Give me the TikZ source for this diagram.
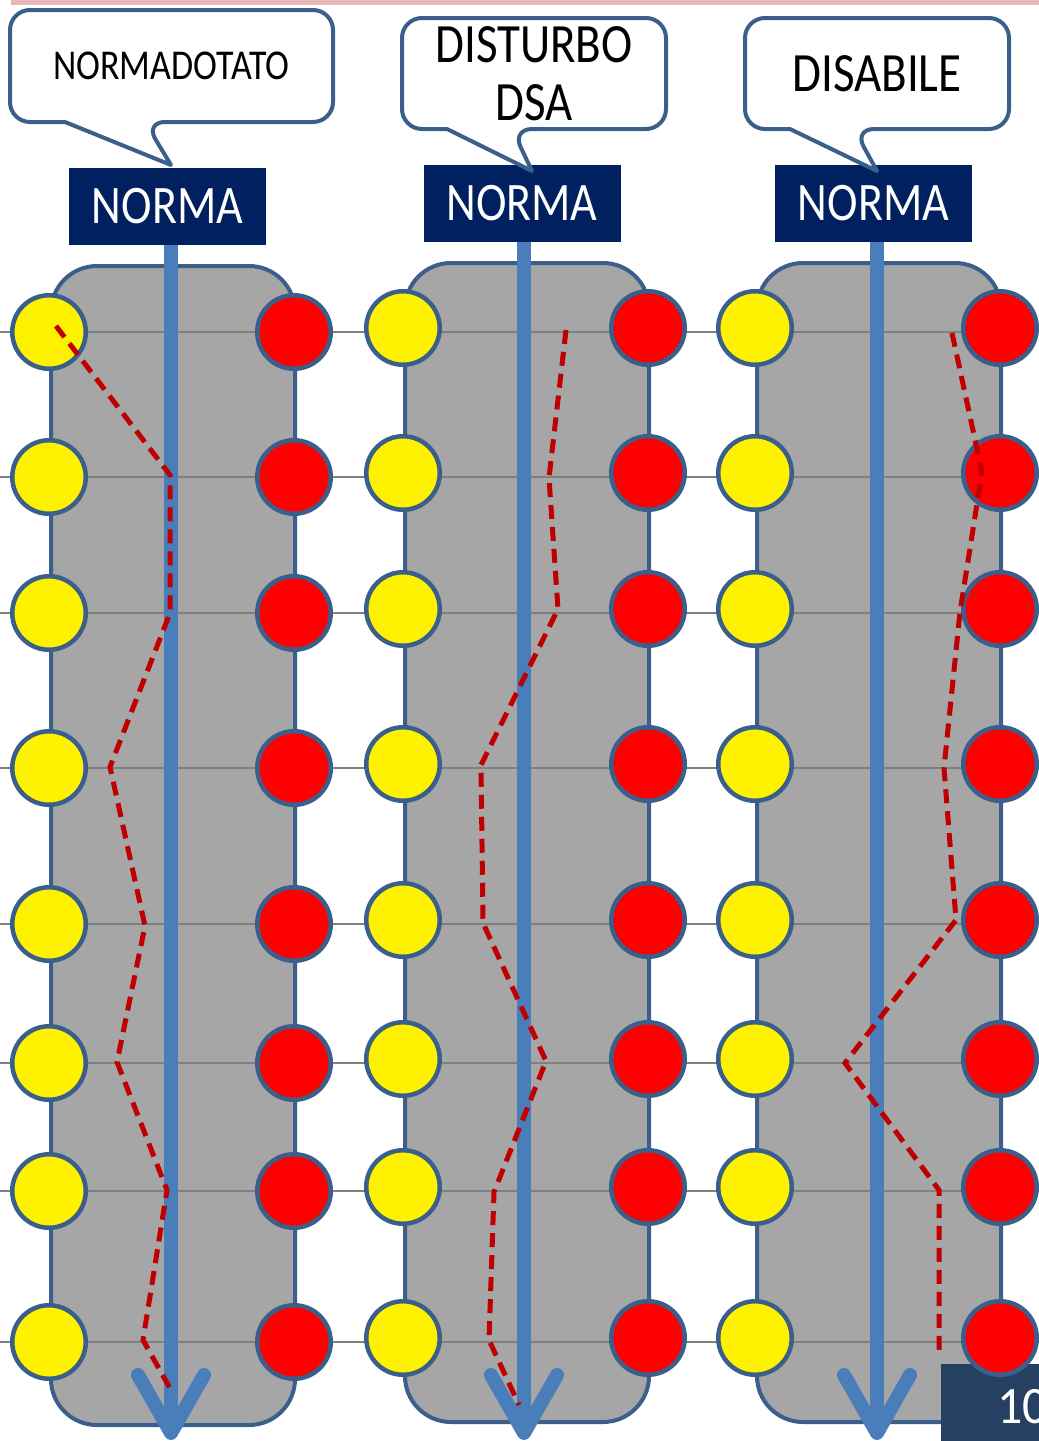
\documentclass[tikz,border=0pt]{standalone}
\usepackage{fontspec}
\setmainfont{Carlito}
\usetikzlibrary{arrows.meta}
\definecolor{bordo}{RGB}{58,95,139}
\definecolor{grigio}{RGB}{166,166,166}
\definecolor{azzurro}{RGB}{74,126,187}
\definecolor{notte}{RGB}{0,32,96}
\definecolor{rossoscuro}{RGB}{192,0,0}
\definecolor{rosa}{RGB}{230,185,184}
\definecolor{ardesia}{RGB}{37,64,97}
\newcommand{\alto}[1]{\scalebox{1}[1.18]{#1}}
\newcommand{\righe}{332,477,613,768,924,1063,1191,1342}
\newcommand{\pannello}[2]{% x y: top left corner, 244x1159
  \draw[bordo,line width=4pt,fill=grigio,rounded corners=46pt] (#1,#2) rectangle ++(244,1159);
}
\newcommand{\colonna}[6]{% n, left x, arrow x, circle shift, box centre x y
  \coordinate (f#1) at (#3,1440);
  \node[norma] (n#1) at (#5,#6) {\alto{NORMA}};
  \draw[freccia] (n#1.south -| f#1) -- (f#1);
  \foreach \y [count=\i] in \righe {
    \node[pallino,fill=yellow] (g#1-\i) at (#2-2,\y-#4) {};
    \node[pallino,fill=red] (r#1-\i) at (#2+243,\y-#4) {};
  }
}
\newcommand{\fumetto}[9]{% name, x1 y1 x2 y2, pointer base b1 b2, tip, text
  \draw[nuvola] (#6,#5) [rounded corners=20pt] -- (#2,#5) -- (#2,#3) -- (#4,#3) -- (#4,#5) -- (#7,#5) [sharp corners] -- (#8) -- cycle;
  \node[testo] (#1) at ({(#2+#4)/2},{(#3+#5)/2}) {#9};
}

\begin{document}
\begin{tikzpicture}[x=1pt,y=-1pt,
  pallino/.style={circle,draw=bordo,line width=4.5pt,minimum size=73.5pt,inner sep=0pt},
  norma/.style={fill=notte,text=white,minimum width=197pt,minimum height=77pt,inner sep=0pt,
    font=\fontsize{46}{50}\selectfont},
  freccia/.style={azzurro,line width=14pt,
    -{Straight Barb[length=58pt,width=66pt,line width=14pt,round]}},
  riga/.style={black!50,line width=2pt},
  traccia/.style={rossoscuro,line width=5pt,dash pattern=on 14pt off 8pt},
  nuvola/.style={bordo,line width=4pt,fill=white,line join=round},
  testo/.style={align=center,inner sep=0pt,font=\fontsize{47}{58}\selectfont}]
  \useasboundingbox (0,0) rectangle (1039,1441);
  \clip (0,0) rectangle (1039,1441);
  \fill[rosa] (11,0) rectangle (1039,5);

  % pannelli grigi e righe orizzontali
  \pannello{51}{266}
  \pannello{405}{263}
  \pannello{757}{263}
  \foreach \y in \righe \draw[riga] (0,\y) -- (1039,\y);

  \fill[ardesia] (941,1364) rectangle (1039,1441);
  \node[anchor=west,inner sep=0pt,text=white,font=\fontsize{50}{54}\selectfont] (num) at (997,1407) {\scalebox{1}[1.05]{10}};

  \colonna{1}{51}{171}{0}{167.5}{206.5}
  \colonna{2}{405}{524}{4}{522}{203.5}
  \colonna{3}{757}{877}{4}{873.5}{203.5}

  % percorsi
  \draw[traccia] (56,326) -- (170,475) -- (170,613) -- (110,767) -- (145,926) -- (117,1062)
    -- (167,1190) -- (143,1340) -- (171,1390);
  \draw[traccia] (566,330) -- (549,478) -- (558,609) -- (481,765) -- (483,923) -- (546,1061)
    -- (494,1192) -- (489,1340) -- (519,1405);
  \draw[traccia] (952,333) -- (982,472) -- (960,612) -- (944,768) -- (956,920) -- (845,1063)
    -- (939,1190) -- (939,1350);

  % fumetti
  \fumetto{c1}{10}{10}{333}{122}{65}{145}{171,165}{\fontsize{36}{40}\selectfont\alto{NORMADOTATO}}
  \fumetto{c2}{402}{18}{666}{129}{447}{512}{532,171}{\alto{DISTURBO}\\\alto{DSA}}
  \fumetto{c3}{745}{18}{1009}{129}{790}{854}{877,171}{\alto{DISABILE}}
\end{tikzpicture}
\end{document}
